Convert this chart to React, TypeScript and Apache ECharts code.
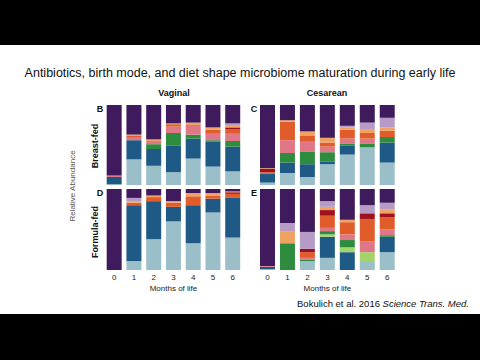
import React, { useEffect, useRef } from "react";
import * as echarts from "echarts";

// Months of life (x categories)
const months = ["0", "1", "2", "3", "4", "5", "6"];

// Taxa, stacked bottom -> top
const taxa = ["lightBlue", "darkBlue", "lightGreen", "green", "pink", "orange", "darkRed", "peach", "lilac", "purple"];
const taxaColors = ["#9bbfc8", "#1f5a86", "#a3d46b", "#2e8c3e", "#e07786", "#e05c2a", "#a0111f", "#f0a263", "#b59bc6", "#3f1a5c"];

// Panel B: Vaginal, Breast-fed (relative abundance %, one row per taxon)
const panelB = [
  [1, 32, 24, 16, 33, 23, 17],
  [9, 24, 21, 33, 25, 31, 31],
  [0, 0, 0, 0, 0, 0, 0],
  [0, 0, 6, 16, 5, 2, 7],
  [2, 3, 4, 8, 12, 8, 9],
  [0, 3, 0, 3, 0, 5, 6],
  [0, 0, 0, 0, 0, 0, 2],
  [0, 1, 2, 1, 3, 3, 3],
  [0, 0, 0, 0, 0, 0, 2],
  [88, 37, 43, 23, 22, 28, 23],
];

// Panel C: Cesarean, Breast-fed
const panelC = [
  [3, 15, 10, 26, 38, 47, 28],
  [11, 13, 16, 3, 11, 0, 25],
  [0, 0, 0, 0, 0, 0, 0],
  [0, 12, 16, 12, 3, 5, 7],
  [0, 16, 12, 7, 6, 6, 0],
  [2, 23, 8, 5, 11, 7, 8],
  [4, 0, 0, 0, 0, 0, 0],
  [1, 2, 5, 6, 3, 4, 4],
  [0, 0, 0, 0, 2, 9, 12],
  [79, 19, 33, 41, 26, 22, 16],
];

// Panel D: Vaginal, Formula-fed
const panelD = [
  [0, 11, 38, 60, 33, 71, 40],
  [0, 69, 47, 18, 47, 17, 49],
  [0, 0, 0, 0, 0, 0, 0],
  [0, 0, 0, 0, 0, 0, 0],
  [0, 0, 0, 0, 0, 0, 0],
  [0, 3, 5, 5, 11, 4, 5],
  [0, 0, 0, 0, 0, 0, 2],
  [0, 2, 2, 2, 4, 3, 1],
  [0, 4, 0, 0, 0, 0, 0],
  [100, 11, 8, 15, 5, 5, 3],
];

// Panel E: Cesarean, Formula-fed
const panelE = [
  [1, 0, 11, 15, 0, 11, 22],
  [3, 0, 0, 26, 22, 0, 19],
  [0, 0, 0, 3, 6, 11, 0],
  [0, 33, 2, 4, 9, 0, 2],
  [1, 0, 2, 4, 7, 13, 7],
  [0, 0, 7, 15, 15, 28, 15],
  [0, 0, 4, 7, 0, 7, 5],
  [0, 15, 0, 4, 3, 0, 5],
  [0, 10, 21, 7, 0, 10, 8],
  [95, 42, 53, 15, 38, 20, 17],
];

const panels = [panelB, panelC, panelD, panelE];

const TITLE = "Antibiotics, birth mode, and diet shape microbiome maturation during early life";
const FONT = "'Liberation Sans', Arial, sans-serif";

export default function App() {
  const ref = useRef<HTMLDivElement>(null);
  useEffect(() => {
    if (!ref.current) return;
    const chart = echarts.init(ref.current, null, { renderer: "svg" });
    const grids = [
      { left: 104.3, top: 105, width: 138.3, height: 80 },
      { left: 257.5, top: 105, width: 139.7, height: 80 },
      { left: 104.3, top: 189, width: 138.3, height: 81 },
      { left: 257.5, top: 189, width: 139.7, height: 81 },
    ];
    const xAxis = grids.map((_, i) => ({
      type: "category" as const,
      gridIndex: i,
      data: months,
      axisLine: { show: false },
      axisTick: { show: false },
      axisLabel: { show: i >= 2, fontSize: 8, color: "#222", margin: 3, fontFamily: FONT },
      name: i >= 2 ? "Months of life" : "",
      nameLocation: "middle" as const,
      nameGap: 14,
      nameTextStyle: { fontSize: 8, color: "#222", fontFamily: FONT },
    }));
    const yAxis = grids.map((_, i) => ({
      type: "value" as const,
      gridIndex: i,
      min: 0,
      max: 100,
      show: false,
    }));
    const series: any[] = [];
    panels.forEach((p, gi) => {
      taxa.forEach((t, ti) => {
        series.push({
          type: "bar",
          name: t,
          xAxisIndex: gi,
          yAxisIndex: gi,
          stack: "s" + gi,
          barWidth: 15,
          data: p[ti],
          itemStyle: { color: taxaColors[ti] },
        });
      });
    });
    const bold = { fontFamily: FONT, fontWeight: "bold" as const, fill: "#111" };
    chart.setOption({
      animation: false,
      backgroundColor: "#fff",
      grid: grids,
      xAxis,
      yAxis,
      series,
      graphic: [
        { type: "rect", shape: { x: 0, y: 0, width: 480, height: 45 }, style: { fill: "#000" } },
        { type: "rect", shape: { x: 0, y: 314, width: 480, height: 46 }, style: { fill: "#000" } },
        { type: "text", x: 240, y: 73, style: { text: TITLE, fontSize: 12.5, fontFamily: FONT, fill: "#111", textAlign: "center", textVerticalAlign: "middle" } },
        { type: "text", x: 174, y: 93, style: { ...bold, text: "Vaginal", fontSize: 9, textAlign: "center", textVerticalAlign: "middle" } },
        { type: "text", x: 327, y: 93, style: { ...bold, text: "Cesarean", fontSize: 9, textAlign: "center", textVerticalAlign: "middle" } },
        { type: "text", x: 100, y: 109, style: { ...bold, text: "B", fontSize: 9, textAlign: "center", textVerticalAlign: "middle" } },
        { type: "text", x: 254, y: 109, style: { ...bold, text: "C", fontSize: 9, textAlign: "center", textVerticalAlign: "middle" } },
        { type: "text", x: 100, y: 193, style: { ...bold, text: "D", fontSize: 9, textAlign: "center", textVerticalAlign: "middle" } },
        { type: "text", x: 254, y: 193, style: { ...bold, text: "E", fontSize: 9, textAlign: "center", textVerticalAlign: "middle" } },
        { type: "text", x: 95, y: 146, rotation: Math.PI / 2, style: { ...bold, text: "Breast-fed", fontSize: 9, textAlign: "center", textVerticalAlign: "middle" } },
        { type: "text", x: 95, y: 232, rotation: Math.PI / 2, style: { ...bold, text: "Formula-fed", fontSize: 9, textAlign: "center", textVerticalAlign: "middle" } },
        { type: "text", x: 72, y: 186, rotation: Math.PI / 2, style: { text: "Relative Abundance", fontSize: 8, fontFamily: FONT, fill: "#555", textAlign: "center", textVerticalAlign: "middle" } },
        {
          type: "text", x: 469, y: 303,
          style: {
            text: "{a|Bokulich et al. 2016 }{b|Science Trans. Med.}",
            textAlign: "right", textVerticalAlign: "middle",
            rich: {
              a: { fontSize: 9.5, fontFamily: FONT, fill: "#111" },
              b: { fontSize: 9.5, fontFamily: FONT, fontStyle: "italic", fill: "#111" },
            },
          },
        },
      ],
    });
    return () => chart.dispose();
  }, []);
  return <div ref={ref} style={{ position: "fixed", left: 0, top: 0, width: 480, height: 360 }} />;
}
